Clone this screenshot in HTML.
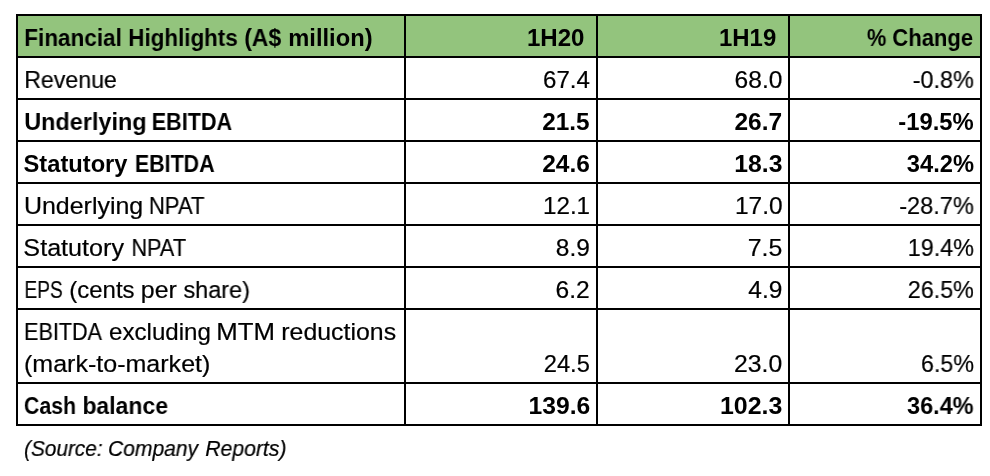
<!DOCTYPE html>
<html><head><meta charset="utf-8"><title>Financial Highlights</title><style>
html,body{margin:0;padding:0;background:#fff;}
body{width:990px;height:476px;position:relative;overflow:hidden;font-family:"Liberation Sans",sans-serif;color:#000;}
.t{position:absolute;white-space:nowrap;font-size:23.7px;line-height:1;will-change:transform;transform-origin:0 0;}
.t.r{transform-origin:100% 0;}
.t{-webkit-text-stroke:0.2px #000;}
.b{font-weight:bold;-webkit-text-stroke:0;}
.i{font-style:italic;}
.l{position:absolute;background:#000;}
.g{position:absolute;left:16px;top:14px;width:966px;height:44px;background:#93c47d;}
</style></head><body>
<div class="g"></div>
<div class="l" style="left:16px;top:14px;width:966px;height:2px"></div>
<div class="l" style="left:16px;top:56px;width:966px;height:2px"></div>
<div class="l" style="left:16px;top:98px;width:966px;height:2px"></div>
<div class="l" style="left:16px;top:140px;width:966px;height:2px"></div>
<div class="l" style="left:16px;top:182px;width:966px;height:2px"></div>
<div class="l" style="left:16px;top:224px;width:966px;height:2px"></div>
<div class="l" style="left:16px;top:266px;width:966px;height:2px"></div>
<div class="l" style="left:16px;top:308px;width:966px;height:2px"></div>
<div class="l" style="left:16px;top:382px;width:966px;height:2px"></div>
<div class="l" style="left:16px;top:424px;width:966px;height:2px"></div>
<div class="l" style="left:16px;top:14px;width:2px;height:412px"></div>
<div class="l" style="left:404px;top:14px;width:2px;height:412px"></div>
<div class="l" style="left:596px;top:14px;width:2px;height:412px"></div>
<div class="l" style="left:788px;top:14px;width:2px;height:412px"></div>
<div class="l" style="left:980px;top:14px;width:2px;height:412px"></div>
<div class="t b" style="top:26.94px;left:24px;padding-left:0.33px;transform:scaleX(0.9494);">Financial</div>
<div class="t b" style="top:26.94px;left:128px;padding-left:0.35px;transform:scaleX(0.9446);">Highlights</div>
<div class="t b" style="top:26.94px;left:244px;padding-left:0.15px;transform:scaleX(0.9680);">(A$</div>
<div class="t b" style="top:26.94px;left:288px;padding-left:0.32px;transform:scaleX(0.9987);">million)</div>
<div class="t b" style="top:26.94px;left:526px;padding-left:0.97px;transform:scaleX(1.0153);">1H20</div>
<div class="t b" style="top:26.94px;left:719px;padding-left:0.03px;transform:scaleX(1.0100);">1H19</div>
<div class="t b" style="top:26.94px;left:866px;padding-left:1.04px;transform:scaleX(0.9207);">%</div>
<div class="t b" style="top:26.94px;left:892px;padding-left:0.34px;transform:scaleX(0.9303);">Change</div>
<div class="t" style="top:68.94px;left:24px;padding-left:0.16px;transform:scaleX(0.9776);">Revenue</div>
<div class="t" style="top:68.94px;left:543px;transform:scaleX(1.0168);">67.4</div>
<div class="t" style="top:68.94px;left:734px;padding-left:0.57px;transform:scaleX(1.0372);">68.0</div>
<div class="t" style="top:68.94px;left:912px;padding-left:0.71px;transform:scaleX(0.9885);">-0.8%</div>
<div class="t b" style="top:110.94px;left:24px;padding-left:0.28px;transform:scaleX(0.9888);">Underlying</div>
<div class="t b" style="top:110.94px;left:151px;padding-left:0.77px;transform:scaleX(0.9123);">EBITDA</div>
<div class="t b" style="top:110.94px;left:542px;padding-left:0.14px;transform:scaleX(1.0287);">21.5</div>
<div class="t b" style="top:110.94px;left:734px;padding-left:0.49px;transform:scaleX(1.0341);">26.7</div>
<div class="t b" style="top:110.94px;left:898px;padding-left:0.35px;transform:scaleX(1.0049);">-19.5%</div>
<div class="t b" style="top:152.94px;left:23px;padding-left:0.56px;transform:scaleX(0.9985);">Statutory</div>
<div class="t b" style="top:152.94px;left:134px;padding-left:0.91px;transform:scaleX(0.9053);">EBITDA</div>
<div class="t b" style="top:152.94px;left:542px;padding-left:0.23px;transform:scaleX(1.0354);">24.6</div>
<div class="t b" style="top:152.94px;left:734px;padding-left:0.24px;transform:scaleX(1.0449);">18.3</div>
<div class="t b" style="top:152.94px;left:906px;padding-left:0.81px;transform:scaleX(0.9930);">34.2%</div>
<div class="t" style="top:194.94px;left:23px;padding-left:0.86px;transform:scaleX(1.0536);">Underlying</div>
<div class="t" style="top:194.94px;left:148px;padding-left:0.99px;transform:scaleX(0.9288);">NPAT</div>
<div class="t" style="top:194.94px;left:542px;padding-left:0.94px;transform:scaleX(1.0218);">12.1</div>
<div class="t" style="top:194.94px;left:734px;padding-left:0.88px;transform:scaleX(1.0343);">17.0</div>
<div class="t" style="top:194.94px;left:899px;padding-left:0.20px;transform:scaleX(0.9934);">-28.7%</div>
<div class="t" style="top:236.94px;left:23px;padding-left:0.35px;transform:scaleX(1.0619);">Statutory</div>
<div class="t" style="top:236.94px;left:131px;padding-left:0.48px;transform:scaleX(0.9157);">NPAT</div>
<div class="t" style="top:236.94px;left:555px;padding-left:0.83px;transform:scaleX(1.0329);">8.9</div>
<div class="t" style="top:236.94px;left:747px;padding-left:0.61px;transform:scaleX(1.0506);">7.5</div>
<div class="t" style="top:236.94px;left:907px;padding-left:0.86px;transform:scaleX(0.9831);">19.4%</div>
<div class="t" style="top:278.94px;left:24px;padding-left:0.51px;transform:scaleX(0.8106);">EPS</div>
<div class="t" style="top:278.94px;left:69px;padding-left:0.23px;transform:scaleX(1.0129);">(cents</div>
<div class="t" style="top:278.94px;left:140px;padding-left:0.80px;transform:scaleX(1.0518);">per</div>
<div class="t" style="top:278.94px;left:183px;padding-left:0.40px;transform:scaleX(0.9904);">share)</div>
<div class="t" style="top:278.94px;left:555px;padding-left:0.53px;transform:scaleX(1.0375);">6.2</div>
<div class="t" style="top:278.94px;left:748px;padding-left:0.35px;transform:scaleX(1.0338);">4.9</div>
<div class="t" style="top:278.94px;left:907px;padding-left:0.74px;transform:scaleX(0.9850);">26.5%</div>
<div class="t" style="top:320.94px;left:24px;padding-left:0.09px;transform:scaleX(0.9106);">EBITDA</div>
<div class="t" style="top:320.94px;left:108px;padding-left:0.96px;transform:scaleX(1.0188);">excluding</div>
<div class="t" style="top:320.94px;left:216px;padding-left:0.35px;transform:scaleX(1.0885);">MTM</div>
<div class="t" style="top:320.94px;left:281px;padding-left:0.31px;transform:scaleX(1.0502);">reductions</div>
<div class="t" style="top:352.94px;left:24px;padding-left:0.03px;transform:scaleX(1.0566);">(mark-to-market)</div>
<div class="t" style="top:352.94px;left:543px;padding-left:0.71px;">24.5</div>
<div class="t" style="top:352.94px;left:733px;padding-left:0.93px;transform:scaleX(1.0452);">23.0</div>
<div class="t" style="top:352.94px;left:920px;padding-left:0.97px;transform:scaleX(0.9802);">6.5%</div>
<div class="t b" style="top:394.94px;left:23px;padding-left:1.07px;transform:scaleX(0.9000);">Cash</div>
<div class="t b" style="top:394.94px;left:82px;padding-left:0.40px;transform:scaleX(0.9709);">balance</div>
<div class="t b" style="top:394.94px;left:528px;padding-left:0.52px;transform:scaleX(1.0413);">139.6</div>
<div class="t b" style="top:394.94px;left:719px;padding-left:0.86px;transform:scaleX(1.0523);">102.3</div>
<div class="t b" style="top:394.94px;left:906px;padding-left:0.98px;transform:scaleX(0.9917);">36.4%</div>
<div class="t i" style="top:439.00px;font-size:21.5px;left:23px;padding-left:1.01px;transform:scaleX(0.9680);">(Source:</div>
<div class="t i" style="top:439.00px;font-size:21.5px;left:108px;padding-left:0.03px;transform:scaleX(0.9790);">Company</div>
<div class="t i" style="top:439.00px;font-size:21.5px;left:205px;padding-left:0.28px;transform:scaleX(0.9855);">Reports)</div>
</body></html>
